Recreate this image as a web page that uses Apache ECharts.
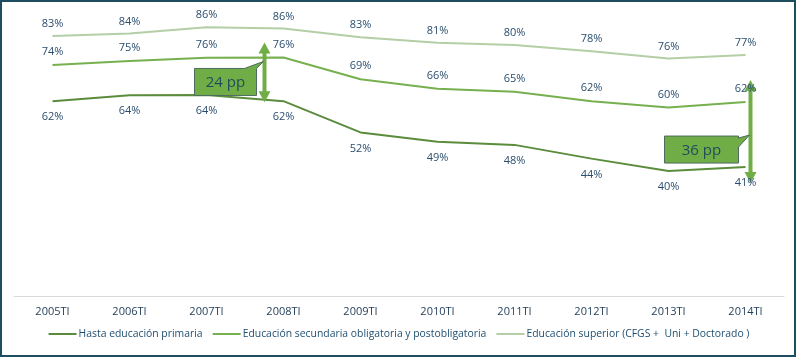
<!DOCTYPE html>
<html><head><meta charset="utf-8">
<script src="https://cdn.jsdelivr.net/npm/echarts@6/dist/echarts.min.js"></script>
<style>html,body{margin:0;padding:0;background:#fff}#c{width:798px;height:358px}</style>
</head><body><div id="c"></div>
<script>
var categories = ['2005TI','2006TI','2007TI','2008TI','2009TI','2010TI','2011TI','2012TI','2013TI','2014TI'];
var primaria = [62.4, 64.3, 64.4, 62.4, 52.4, 49.4, 48.4, 44.0, 40.0, 41.3];
var secundaria = [74.0, 75.3, 76.3, 76.4, 69.4, 66.4, 65.4, 62.4, 60.4, 62.1];
var superior = [83.3, 84.1, 86.1, 85.7, 82.9, 81.1, 80.4, 78.4, 76.1, 77.2];
var seriesNames = ['Hasta educación primaria','Educación secundaria obligatoria y postobligatoria','Educación superior (CFGS +  Uni + Doctorado )'];
var gapLabels = ['24 pp', '36 pp'];
var gapCategories = ['2008TI', '2014TI'];

var chart = echarts.init(document.getElementById('c'));
var FONT = '"Open Sans", sans-serif';
var labelColor = '#2A4D6E';
var colors = ['#5B8C3B', '#77B04F', '#B4CEA6'];
function mkSeries(name, data, color, pos, dist) {
  return {
    name: name, type: 'line', data: data, symbol: 'circle', symbolSize: 1, showSymbol: true, smooth: false,
    lineStyle: { color: color, width: 2 }, itemStyle: { color: 'rgba(0,0,0,0)', borderWidth: 0 },
    label: { show: true, position: pos, distance: dist, color: labelColor, fontFamily: FONT, fontSize: 11, opacity: 1,
      formatter: function (p) { return Math.round(p.value) + '%'; } },
    z: 2
  };
}
var option = {
  animation: false,
  backgroundColor: '#fff',
  grid: { left: 14, right: 14, top: 15, bottom: 62 },
  xAxis: {
    type: 'category', data: categories, boundaryGap: true,
    axisLine: { lineStyle: { color: '#D9D9D9', width: 1 } },
    axisTick: { show: false },
    axisLabel: { color: '#1F3B57', fontFamily: FONT, fontSize: 11, margin: 10 }
  },
  yAxis: { type: 'value', min: 0, max: 90, show: false, splitLine: { show: false } },
  legend: {
    bottom: 14, left: 'center', itemWidth: 28, itemHeight: 2, itemGap: 10, icon: 'rect',
    textStyle: { color: '#1F4E70', fontFamily: FONT, fontSize: 10.4, padding: [0, 0, 0, -3] },
    data: seriesNames.map(function (n, i) { return { name: n, itemStyle: { color: colors[i], opacity: 1 } }; })
  },
  series: [
    mkSeries(seriesNames[0], primaria, colors[0], 'bottom', 10),
    mkSeries(seriesNames[1], secundaria, colors[1], 'top', 7),
    mkSeries(seriesNames[2], superior, colors[2], 'top', 6)
  ]
};
chart.setOption(option);

function px(cat, val) { return chart.convertToPixel({ xAxisIndex: 0, yAxisIndex: 0 }, [cat, val]); }
function doubleArrow(x, y1, y2, z) {
  var hw = 6, hh = 11, sw = 2;
  return {
    type: 'polygon', z: z,
    shape: { points: [[x, y1], [x + hw, y1 + hh], [x + sw, y1 + hh], [x + sw, y2 - hh], [x + hw, y2 - hh], [x, y2],
      [x - hw, y2 - hh], [x - sw, y2 - hh], [x - sw, y1 + hh], [x - hw, y1 + hh]] },
    style: { fill: '#70AD47', stroke: null }
  };
}
var g = [];
g.push({ type: 'rect', shape: { x: 1, y: 1, width: 794, height: 355 }, style: { fill: null, stroke: '#1D4E60', lineWidth: 2 }, z: 20 });
var a1t = px(gapCategories[0], secundaria[3]), a1b = px(gapCategories[0], primaria[3]);
var x1 = a1t[0] - 19;
g.push(doubleArrow(x1, a1t[1] - 15, a1b[1] + 1, 10));
var b1 = { x: x1 - 70, y: a1t[1] + 11, w: 62, h: 27 };
g.push({ type: 'polygon', z: 11, shape: { points: [[b1.x, b1.y], [b1.x + 50, b1.y], [x1 - 1, a1t[1] + 4], [b1.x + b1.w, b1.y], [b1.x + b1.w, b1.y + b1.h], [b1.x, b1.y + b1.h]] },
  style: { fill: '#70AD47', stroke: '#4E6B5C', lineWidth: 1 } });
g.push({ type: 'text', z: 12, style: { text: gapLabels[0], x: b1.x + b1.w / 2, y: b1.y + b1.h / 2 + 1, align: 'center', verticalAlign: 'middle', fill: '#1F4E5A', font: '15px ' + FONT } });
var a2t = px(gapCategories[1], secundaria[9]), a2b = px(gapCategories[1], primaria[9]);
var x2 = a2t[0] + 5;
g.push(doubleArrow(x2, a2t[1] - 22, a2b[1] + 16, 1));
var b2 = { x: x2 - 86, y: a2b[1] - 31, w: 74, h: 27 };
g.push({ type: 'polygon', z: 11, shape: { points: [[b2.x, b2.y], [b2.x + b2.w, b2.y], [b2.x + b2.w, b2.y + 2], [x2 - 1, b2.y - 1], [b2.x + b2.w, b2.y + 11], [b2.x + b2.w, b2.y + b2.h], [b2.x, b2.y + b2.h]] },
  style: { fill: '#70AD47', stroke: '#4E6B5C', lineWidth: 1 } });
g.push({ type: 'text', z: 12, style: { text: gapLabels[1], x: b2.x + b2.w / 2, y: b2.y + b2.h / 2 + 1, align: 'center', verticalAlign: 'middle', fill: '#1F4E5A', font: '15px ' + FONT } });
chart.setOption({ graphic: g });
</script></body></html>
